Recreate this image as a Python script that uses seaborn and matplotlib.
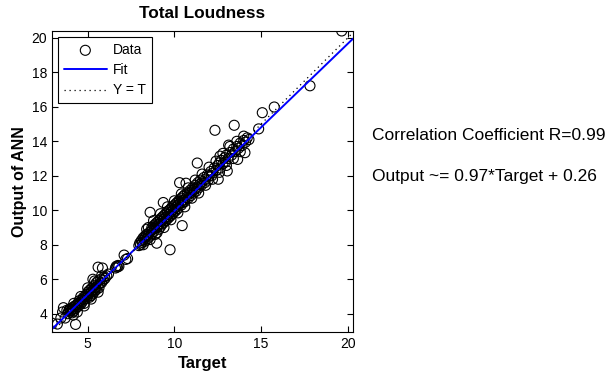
import numpy as np
import pandas as pd
import matplotlib
matplotlib.use('Agg')
import matplotlib.pyplot as plt
import seaborn as sns

# Target / ANN output pairs
target = [2.95, 3.25, 3.45, 3.55, 3.6, 3.7, 3.8, 3.85, 3.9, 3.95, 4.0, 4.0, 4.05, 4.1, 4.1,
          4.15, 4.17, 4.2, 4.25, 4.3, 4.3, 4.35, 4.4, 4.45, 4.5, 4.5, 4.55, 4.6, 4.65, 4.7,
          4.75, 4.8, 4.8, 4.85, 4.9, 4.95, 5.0, 5.0, 5.05, 5.1, 5.1, 5.15, 5.2, 5.2, 5.25,
          5.3, 5.3, 5.35, 5.4, 5.4, 5.45, 5.5, 5.5, 5.55, 5.6, 5.6, 5.65, 5.7, 5.75, 5.8,
          5.85, 5.9, 5.95, 6.0, 6.1, 6.2,
          4.2, 4.4, 4.6, 4.8, 5.0, 5.2, 5.4, 5.6, 5.8, 5.3,
          6.6, 6.65, 6.7, 6.75, 6.8, 7.1, 7.2, 7.3,
          7.95, 8.0, 8.05, 8.1, 8.15, 8.2, 8.25, 8.3, 8.3, 8.35, 8.4, 8.45, 8.5, 8.5, 8.55,
          8.6, 8.6, 8.65, 8.7, 8.7, 8.75, 8.8, 8.8, 8.85, 8.9, 8.9, 8.95, 8.98, 9.0, 9.0,
          9.05, 9.1, 9.1, 9.15, 9.2, 9.2, 9.25, 9.3, 9.3, 9.35, 9.36, 9.4, 9.4, 9.45, 9.5,
          9.5, 9.55, 9.6, 9.6, 9.65, 9.7, 9.7, 9.75, 9.75, 9.8, 9.8, 9.85, 9.9, 9.9, 9.95,
          10.0, 10.0, 10.05, 10.1, 10.1, 10.15, 10.2, 10.2, 10.25, 10.3, 10.3, 10.35, 10.4,
          10.4, 10.45, 10.45, 10.5, 10.5, 10.55, 10.6, 10.6, 10.67, 10.7, 10.75, 10.8, 10.85,
          10.9, 10.95, 11.0, 11.05, 11.1, 11.15, 11.2, 11.25, 11.3, 11.32, 11.35, 11.4, 11.45,
          11.5, 11.55, 11.6, 11.7, 11.75, 11.8, 11.9, 11.95, 12.0, 12.1, 12.15, 12.2, 12.3,
          12.34, 12.4, 12.5, 12.53, 12.6, 12.63, 12.65, 12.7, 12.8, 12.9, 12.95, 13.0, 13.05,
          13.1, 13.13, 13.2, 13.3, 13.4, 13.45, 13.5, 13.6, 13.65, 13.7, 13.8, 13.9, 14.0,
          14.07, 14.1, 14.2, 14.3, 14.86, 15.07, 15.76, 17.82, 19.65,
          8.2, 8.4, 8.6, 8.8, 9.0, 9.2, 9.4, 9.6, 9.8, 10.0, 10.2, 10.4, 10.6, 10.8, 11.0,
          11.2, 11.4, 11.6, 11.8, 12.0, 12.2, 12.4, 12.6, 12.8, 13.0, 13.2, 13.4, 13.6, 13.8,
          14.0]
output = [3.45, 3.4, 3.75, 4.1, 4.35, 3.75, 4.2, 4.0, 4.15, 4.25, 4.1, 4.3, 4.2, 4.05, 4.35,
          4.25, 3.92, 4.15, 4.45, 3.38, 4.3, 4.5, 4.4, 4.6, 4.5, 4.75, 4.65, 4.55, 4.8, 4.7,
          4.95, 4.85, 4.6, 5.0, 4.9, 5.1, 5.0, 5.25, 5.15, 4.95, 5.35, 5.2, 5.45, 5.05, 5.3,
          5.55, 5.15, 5.4, 5.65, 5.3, 5.5, 5.8, 5.4, 5.6, 5.9, 6.7, 5.5, 5.75, 6.0, 5.8,
          6.65, 5.95, 6.15, 6.05, 6.2, 6.3,
          4.6, 4.1, 5.0, 4.45, 5.5, 4.85, 5.9, 5.25, 6.2, 6.0,
          6.65, 6.75, 6.7, 6.8, 6.75, 7.4, 7.15, 7.2,
          7.95, 8.1, 8.0, 8.25, 8.15, 8.4, 8.3, 8.2, 8.5, 8.45, 8.6, 8.35, 8.55, 9.0, 8.7,
          8.5, 9.88, 8.8, 8.65, 9.0, 8.9, 8.75, 9.1, 8.95, 9.2, 8.6, 9.05, 8.09, 9.0, 9.3,
          9.15, 8.9, 9.4, 9.2, 9.5, 9.05, 9.35, 9.6, 9.2, 9.45, 10.45, 9.3, 9.7, 9.55, 9.8,
          9.4, 9.6, 9.9, 9.5, 9.75, 10.0, 9.6, 7.71, 9.85, 10.1, 9.7, 9.95, 10.2, 9.8, 10.05,
          10.3, 9.9, 10.15, 10.4, 10.0, 10.25, 10.5, 10.1, 10.35, 10.6, 11.6, 10.4, 10.7,
          10.3, 9.11, 10.55, 10.8, 10.45, 10.6, 10.9, 10.5, 11.57, 10.75, 11.0, 10.7, 10.95,
          11.15, 10.85, 11.05, 11.3, 11.0, 11.2, 11.45, 11.1, 11.35, 12.74, 11.6, 11.3, 11.5,
          11.75, 11.45, 11.65, 11.9, 11.6, 11.8, 12.05, 11.75, 12.0, 12.25, 12.0, 12.15, 12.45,
          14.64, 12.3, 12.6, 11.8, 12.75, 13.14, 12.45, 12.9, 12.7, 13.05, 12.8, 13.2, 12.28,
          13.0, 13.78, 13.35, 13.2, 13.55, 14.93, 13.4, 13.7, 12.95, 13.6, 13.9, 13.75, 14.05,
          13.34, 13.95, 14.2, 14.1, 14.72, 15.66, 15.99, 17.22, 20.4,
          8.0, 8.9, 8.3, 9.4, 8.7, 9.8, 9.0, 10.2, 9.45, 10.55, 9.85, 10.95, 10.2, 11.3, 10.7,
          11.75, 11.0, 12.1, 11.45, 12.5, 11.8, 12.85, 12.2, 13.3, 12.6, 13.7, 13.0, 14.0, 13.4,
          14.3]

fit_slope = 0.97
fit_intercept = 0.26
corr_r = 0.99
x_range = [2.94, 20.3]
y_range = [2.94, 20.39]

sns.set_style('ticks')
plt.rcParams['font.family'] = ['Liberation Sans', 'DejaVu Sans']
plt.rcParams['text.color'] = 'black'
plt.rcParams['axes.labelcolor'] = 'black'
plt.rcParams['xtick.color'] = 'black'
plt.rcParams['ytick.color'] = 'black'

df = pd.DataFrame({'Target': target, 'Output': output})

fig = plt.figure(figsize=(6.13, 3.77), dpi=100)
ax = fig.add_axes([0.0848, 0.1194, 0.491, 0.798])

sns.scatterplot(data=df, x='Target', y='Output', ax=ax, marker='o', s=52,
                facecolors='none', edgecolor='black', linewidth=0.8, label='Data')

xs = np.array(x_range)
ax.plot(xs, fit_slope * xs + fit_intercept, color='#0000ff', lw=1.4, label='Fit')
ax.plot(xs, xs, color='black', lw=0.9, ls=(0, (1, 3)), label='Y = T')

ax.set_xlim(x_range)
ax.set_ylim(y_range)
ax.set_xticks([5, 10, 15, 20])
ax.set_yticks([4, 6, 8, 10, 12, 14, 16, 18, 20])
ax.tick_params(direction='in', top=True, right=True, length=4, width=0.8, labelsize=10)
for s in ax.spines.values():
    s.set_linewidth(0.8)
    s.set_color('black')

ax.set_title('Total Loudness', fontsize=12.4, fontweight='bold', pad=9.5)
ax.set_xlabel('Target', fontsize=12, fontweight='bold', labelpad=3.5)
ax.set_ylabel('Output of ANN', fontsize=11.5, fontweight='bold', labelpad=3)

leg = ax.legend(loc='upper left', fontsize=10, frameon=True, fancybox=False,
                edgecolor='black', framealpha=1, borderaxespad=0.45,
                handlelength=3.1, handletextpad=0.45, labelspacing=0.45)
leg.get_frame().set_linewidth(0.8)

fig.text(372 / 613, 1 - 136 / 377, f'Correlation Coefficient R={corr_r:.2f}',
         fontsize=12.5, va='center', ha='left')
fig.text(372 / 613, 1 - 176 / 377,
         f'Output ~= {fit_slope:.2f}*Target + {fit_intercept:.2f}',
         fontsize=12.5, va='center', ha='left')

fig.savefig('out.png', dpi=100)
